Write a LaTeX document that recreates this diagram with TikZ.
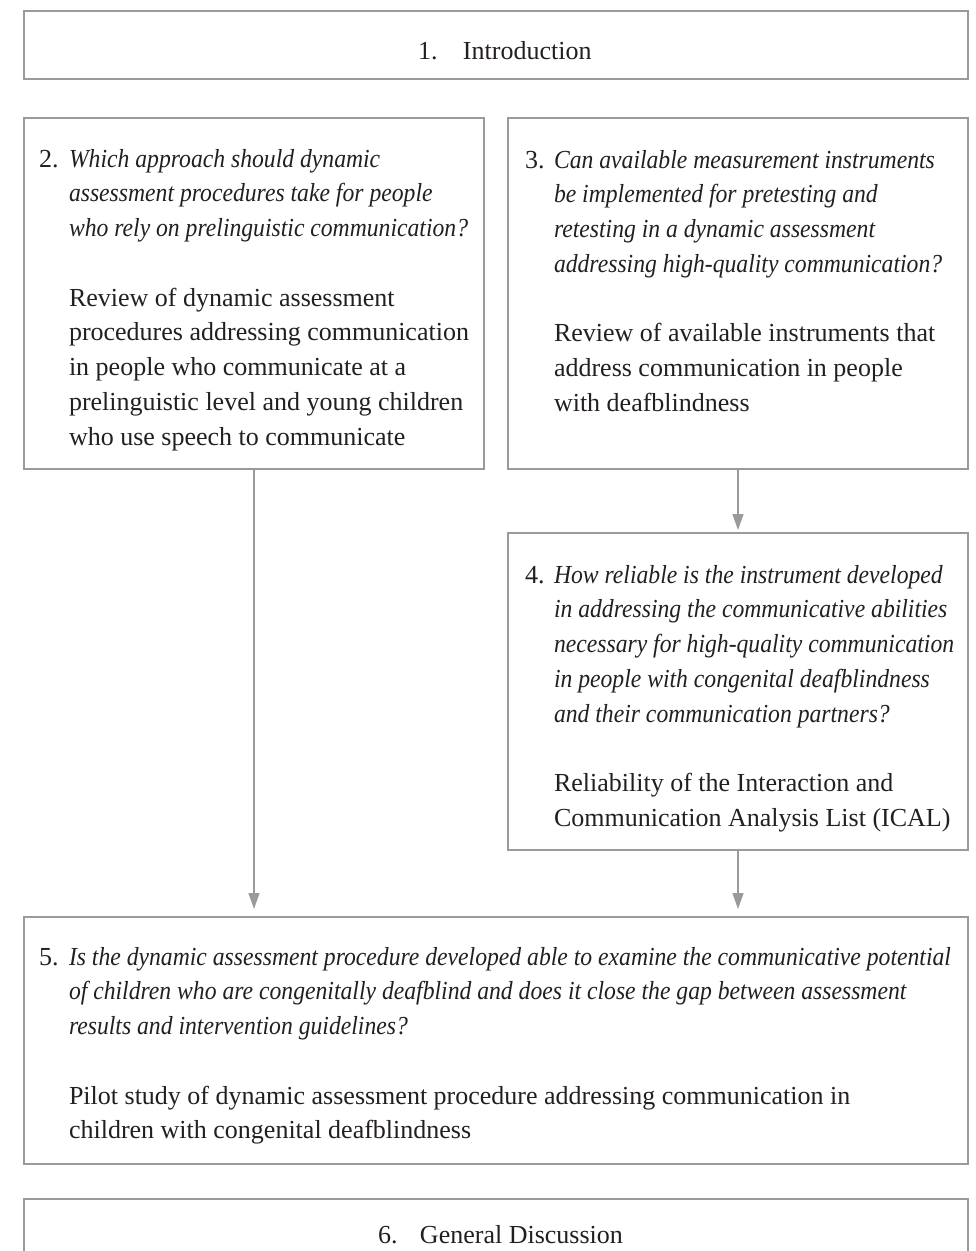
\documentclass[tikz,border=0pt]{standalone}
\usepackage{fontspec}
\setmainfont{Liberation Serif}[ItalicFeatures={FakeStretch=0.91}]
\usetikzlibrary{arrows.meta}
\definecolor{linegray}{HTML}{9A9A9A}
\definecolor{textdark}{HTML}{231F20}
\newcommand{\boxtext}[1]{\parbox[t]{900bp}{\fontsize{26bp}{34.75bp}\selectfont #1}}
\tikzset{
  box/.style={draw=linegray, line width=1.3bp, inner sep=0pt, outer sep=0pt, fill=none},
  txt/.style={anchor=base west, inner sep=0pt, outer sep=0pt, text=textdark},
  num/.style={anchor=base west, inner sep=0pt, outer sep=0pt, text=textdark,
    font=\fontsize{26bp}{34.75bp}\selectfont},
  conn/.style={draw=linegray, line width=1.3bp, -{Triangle[length=16bp,width=11bp]}}
}
\begin{document}
\begin{tikzpicture}[x=1bp,y=-1bp]
\useasboundingbox (0,0) rectangle (976,1251);
\clip (0,0) rectangle (976,1251);
% boxes
\node[box, minimum width=944bp, minimum height=68bp] (b1) at (496,45) {};
\node[box, minimum width=460bp, minimum height=351bp] (b2) at (254,293.5) {};
\node[box, minimum width=460bp, minimum height=351bp] (b3) at (738,293.5) {};
\node[box, minimum width=460bp, minimum height=317bp] (b4) at (738,691.5) {};
\node[box, minimum width=944bp, minimum height=247bp] (b5) at (496,1040.5) {};
\node[box, minimum width=944bp, minimum height=101bp] (b6) at (496,1249.5) {};
% texts
\node[num] (t1) at (418,59) {\makebox[45bp][l]{1.}Introduction};
\node[num] (n2) at (39,167) {2.};
\node[txt] (t2) at (69,167) {\boxtext{\textit{Which approach should dynamic}\\
\textit{assessment procedures take for people}\\
\textit{who rely on prelinguistic communication?}\\[34.75bp]
Review of dynamic assessment\\
procedures addressing communication\\
in people who communicate at a\\
prelinguistic level and young children\\
who use speech to communicate}};
\node[num] (n3) at (525,168) {3.};
\node[txt] (t3) at (554,168) {\boxtext{\textit{Can available measurement instruments}\\
\textit{be implemented for pretesting and}\\
\textit{retesting in a dynamic assessment}\\
\textit{addressing high-quality communication?}\\[34.75bp]
Review of available instruments that\\
address communication in people\\
with deafblindness}};
\node[num] (n4) at (525,583) {4.};
\node[txt] (t4) at (554,583) {\boxtext{\textit{How reliable is the instrument developed}\\
\textit{in addressing the communicative abilities}\\
\textit{necessary for high-quality communication}\\
\textit{in people with congenital deafblindness}\\
\textit{and their communication partners?}\\[34.75bp]
Reliability of the Interaction and\\
Communication Analysis List (ICAL)}};
\node[num] (n5) at (39,965) {5.};
\node[txt] (t5) at (69,965) {\boxtext{\textit{Is the dynamic assessment procedure developed able to examine the communicative potential}\\
\textit{of children who are congenitally deafblind and does it close the gap between assessment}\\
\textit{results and intervention guidelines?}\\[34.75bp]
Pilot study of dynamic assessment procedure addressing communication in\\
children with congenital deafblindness}};
\node[num] (t6) at (378,1243) {\makebox[42bp][l]{6.}General Discussion};
% connectors
\draw[conn, shorten >=8bp] (b2.south) -- (b2.south |- b5.north);
\draw[conn, shorten >=3bp] (b3.south) -- (b4.north);
\draw[conn, shorten >=8bp] (b4.south) -- (b4.south |- b5.north);
\end{tikzpicture}
\end{document}
